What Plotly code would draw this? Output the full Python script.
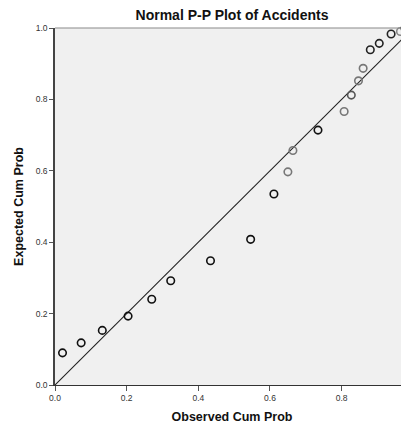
import plotly.graph_objects as go

# Data
observed = [0.021, 0.073, 0.132, 0.204, 0.270, 0.323, 0.434, 0.546, 0.611, 0.650,
            0.664, 0.734, 0.807, 0.827, 0.847, 0.860, 0.880, 0.905, 0.938, 0.964, 0.977]
expected = [0.090, 0.118, 0.153, 0.193, 0.240, 0.292, 0.348, 0.408, 0.535, 0.597,
            0.657, 0.714, 0.766, 0.812, 0.852, 0.887, 0.939, 0.957, 0.983, 0.990, 0.999]
ref_line = [0.0, 1.0]
tick_vals = [0.0, 0.2, 0.4, 0.6, 0.8, 1.0]
tick_text = ["0.0", "0.2", "0.4", "0.6", "0.8", "1.0"]

# styling (per-point outline shade)
shade = ["#111"] * 9 + ["#777", "#777", "#111", "#777", "#555", "#777", "#777",
                        "#222", "#222", "#222", "#888", "#222"]

FONT = "Liberation Sans, Arial, sans-serif"

fig = go.Figure()
fig.add_trace(go.Scatter(x=ref_line, y=ref_line, mode="lines",
                         line=dict(color="#222", width=1.1), hoverinfo="skip"))
fig.add_trace(go.Scatter(x=observed, y=expected, mode="markers", cliponaxis=False,
                         marker=dict(symbol="circle-open", size=7.5,
                                     color=shade, line=dict(width=1.6, color=shade))))

# page has an 8px body margin, so the figure is sized to fill the rest of the window
fig.update_layout(
    width=401, height=416,
    margin=dict(l=47, r=0, t=20, b=32),
    paper_bgcolor="white", plot_bgcolor="#f0f0f0",
    showlegend=False,
    font=dict(family=FONT, color="#222"),
    title=dict(text="<b>Normal P-P Plot of Accidents</b>", x=0.5, xref="paper",
               xanchor="center", y=0.983, yref="container", yanchor="middle",
               font=dict(size=14, family=FONT, color="#111")),
)
fig.update_xaxes(range=[0, 0.988], tickvals=tick_vals[:-1], ticktext=tick_text[:-1],
                 showgrid=False, zeroline=False, showline=True, linecolor="#333",
                 linewidth=1.2, ticks="outside", ticklen=5, tickcolor="#555",
                 tickfont=dict(size=8.5, color="#333", family=FONT),
                 title=dict(text="<b>Observed Cum Prob</b>", standoff=12,
                            font=dict(size=12.5, family=FONT, color="#111")))
fig.update_yaxes(range=[0, 1], tickvals=tick_vals, ticktext=tick_text,
                 showgrid=False, zeroline=False, showline=True, linecolor="#444",
                 linewidth=1.5, ticks="outside", ticklen=4, tickcolor="#555",
                 tickfont=dict(size=8.5, color="#333", family=FONT),
                 title=dict(text="<b>Expected Cum Prob</b>", standoff=9,
                            font=dict(size=12.5, family=FONT, color="#111")))
# top frame line
fig.add_shape(type="line", xref="paper", yref="paper", x0=0, x1=1, y0=1, y1=1,
              line=dict(color="#8a8a8a", width=1.2))
# partially visible last x tick label at the clipped right edge
fig.add_annotation(text=tick_text[-1], xref="paper", yref="paper", x=1.011, y=0,
                   yshift=-13, showarrow=False, xanchor="center",
                   font=dict(size=8.5, color="#333", family=FONT))

fig.write_html("out.html")
